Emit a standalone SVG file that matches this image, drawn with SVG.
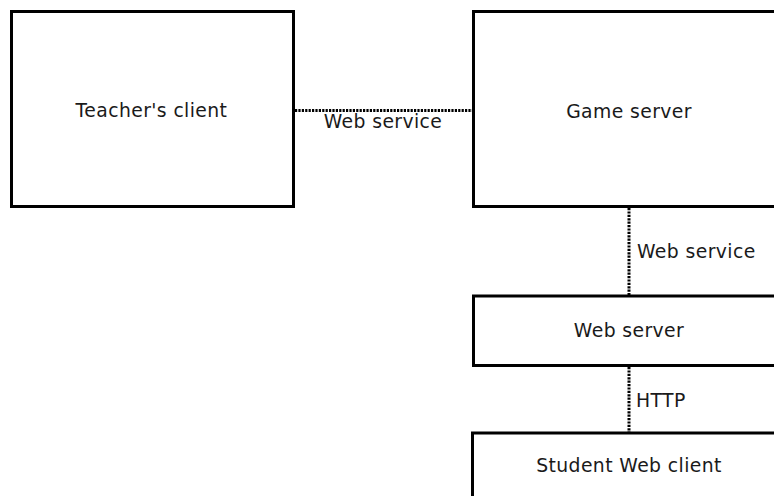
<svg xmlns="http://www.w3.org/2000/svg" width="774" height="496" viewBox="0 0 774 496">
  <style>
    .box { fill: #fff; stroke: #000; stroke-width: 3; }
    .lbl { font-family: "DejaVu Sans", "Liberation Sans", sans-serif; font-size: 18.8px; letter-spacing: 0.4px; fill: #1a1a1a; }
    .mid { text-anchor: middle; }
    .link { fill: none; stroke: #000; stroke-width: 3; stroke-dasharray: 2.2 1.2; }
  </style>
  <rect width="774" height="496" fill="#fff"/>

  <!-- dotted connectors with their protocol labels -->
  <g id="connectors">
    <line class="link" x1="295" y1="110.5" x2="472" y2="110.5"/>
    <text class="lbl mid" x="383" y="128">Web service</text>
    <line class="link" x1="629" y1="208" x2="629" y2="295"/>
    <text class="lbl" x="637" y="258">Web service</text>
    <line class="link" x1="629" y1="367" x2="629" y2="432"/>
    <text class="lbl" x="636" y="407">HTTP</text>
  </g>

  <g id="teacher-client">
    <rect class="box" x="11.5" y="11.5" width="282" height="195"/>
    <text class="lbl mid" x="151.5" y="117">Teacher's client</text>
  </g>

  <g id="game-server">
    <rect class="box" x="473.5" y="11.5" width="311" height="195"/>
    <text class="lbl mid" x="629" y="118">Game server</text>
  </g>

  <g id="web-server">
    <rect class="box" x="473.5" y="296" width="311" height="69.5"/>
    <text class="lbl mid" x="629" y="337">Web server</text>
  </g>

  <g id="student-web-client">
    <rect class="box" x="472.5" y="433" width="311" height="80"/>
    <text class="lbl mid" x="629" y="472">Student Web client</text>
  </g>
</svg>
